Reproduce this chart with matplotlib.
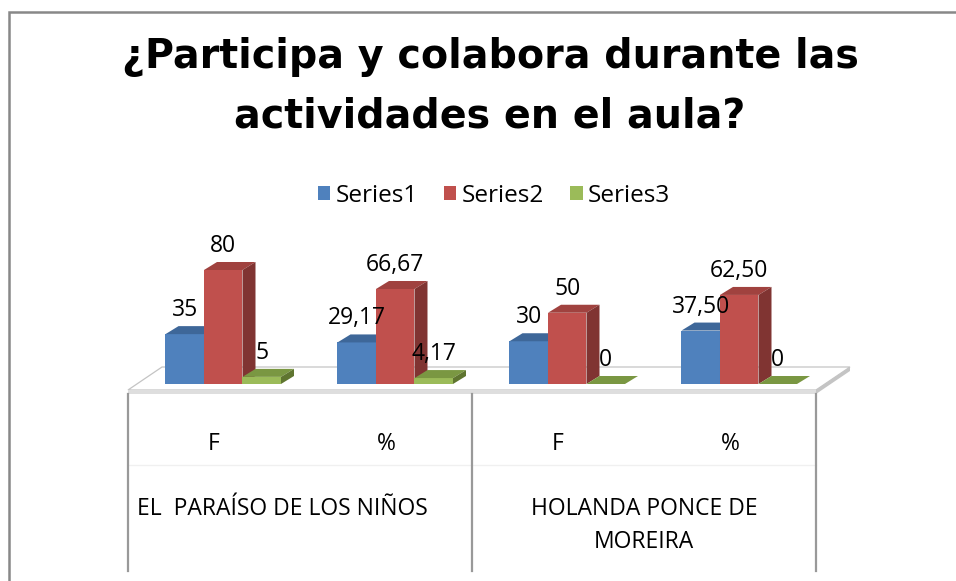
import matplotlib
matplotlib.use("Agg")
import matplotlib.pyplot as plt
from matplotlib.patches import Polygon, Rectangle
import numpy as np

# data
categories = ["F", "%", "F", "%"]
groups = ["EL  PARAÍSO DE LOS NIÑOS", "HOLANDA PONCE DE\nMOREIRA"]
series_names = ["Series1", "Series2", "Series3"]
series1 = [35, 29.17, 30, 37.50]
series2 = [80, 66.67, 50, 62.50]
series3 = [5, 4.17, 0, 0]
title = "¿Participa y colabora durante las\nactividades en el aula?"

W, H = 956, 581
# pixel layout of the plot area
X0, PX_CAT = 128, 172.0     # left edge of axis, px per category
Y0, PX_VAL = 384, 1.425     # bar base row, px per unit

front = ["#4F81BD", "#C0504D", "#9BBB59"]
top = ["#3E6799", "#A0423F", "#7A9742"]
side = ["#385D8A", "#803432", "#5F7530"]

FONT = "Open Sans"

fig = plt.figure(figsize=(W / 100, H / 100), dpi=100)
ax = fig.add_axes([0, 0, 1, 1])
ax.axis("off")
ax.set_xlim(-X0 / PX_CAT, (W - X0) / PX_CAT)
ax.set_ylim((Y0 - H) / PX_VAL, Y0 / PX_VAL)


def px(x):
    return (x - X0) / PX_CAT


def py(y):
    return (Y0 - y) / PX_VAL


# outer frame (right and bottom edges fall outside the picture)
fig.patches.append(Rectangle((9 / W, -0.1), 1.2, 1 - 12 / H + 0.1,
                             transform=fig.transFigure, fill=False,
                             ec="#888888", lw=1.8, zorder=0))

# floor slab
n = len(categories)
fdx, fdy = 34 / PX_CAT, 23 / PX_VAL
f_front, f_bot = py(390), py(394)
ax.add_patch(Polygon([(0, f_front), (n, f_front), (n + fdx, f_front + fdy),
                      (fdx, f_front + fdy)], closed=True, fc="white",
                     ec="#c4c4c4", lw=0.9, zorder=1))
ax.add_patch(Polygon([(0, f_front), (n, f_front), (n, f_bot), (0, f_bot)],
                     closed=True, fc="#dedede", lw=0, zorder=1))
ax.add_patch(Polygon([(n, f_front), (n + fdx, f_front + fdy),
                      (n + fdx, f_front + fdy - (f_front - f_bot)), (n, f_bot)],
                     closed=True, fc="#c4c4c4", lw=0, zorder=1))

# category table lines
ax.plot([0, n], [py(465), py(465)], color="#f0f0f0", lw=1, zorder=1)
for xv in [0, 2, 4]:
    ax.plot([xv, xv], [f_bot, py(571)], color="#999999", lw=1.6, zorder=1)

# 3d-looking columns
bw = 38.5 / PX_CAT
off = 0.218
dx, dy = 13 / PX_CAT, 8 / PX_VAL
pos = np.arange(n)
pct = [c == "%" for c in categories]
handles = []
for j, vals in enumerate([series1, series2, series3]):
    left = pos + off + j * bw
    b = ax.bar(left, vals, width=bw, align="edge", color=front[j], lw=0,
               zorder=3 + j, label=series_names[j])
    handles.append(b)
    for x, v, p in zip(left, vals, pct):
        ax.add_patch(Polygon([(x, v), (x + bw, v), (x + bw + dx, v + dy),
                              (x + dx, v + dy)], closed=True, fc=top[j],
                             lw=0, zorder=3 + j))
        ax.add_patch(Polygon([(x + bw, 0), (x + bw + dx, dy),
                              (x + bw + dx, v + dy), (x + bw, v)], closed=True,
                             fc=side[j], lw=0, zorder=3 + j))
        if p and v != 0:
            s = f"{v:.2f}".replace(".", ",")
        else:
            s = f"{v:g}"
        ax.text(x + bw / 2, v + 18 / PX_VAL, s, ha="center", va="baseline",
                family=FONT, fontsize=16.5, color="black", zorder=10)

# category labels
for i, c in enumerate(categories):
    ax.text(i + 0.5, py(450), c, ha="center", va="baseline",
            family=FONT, fontsize=16.5)
ax.text(px(282), py(515), groups[0], ha="center", va="baseline",
        family=FONT, fontsize=16.5)
ax.text(3, py(548), groups[1], ha="center", va="baseline",
        family=FONT, fontsize=16.5, linespacing=1.52, multialignment="center")

# title
fig.text(490 / W, 1 - 128 / H, title, ha="center", va="baseline",
         family="DejaVu Sans", fontweight="bold", fontsize=28.5,
         linespacing=1.66, multialignment="center")

fig.legend(handles, series_names, loc="center",
           bbox_to_anchor=(494 / W, 1 - 196 / H), ncol=3, frameon=False,
           prop={"family": FONT, "size": 17.5}, handlelength=0.5,
           handleheight=0.5, handletextpad=0.2, columnspacing=1.1,
           borderpad=0)

fig.savefig("out.png", dpi=100)
